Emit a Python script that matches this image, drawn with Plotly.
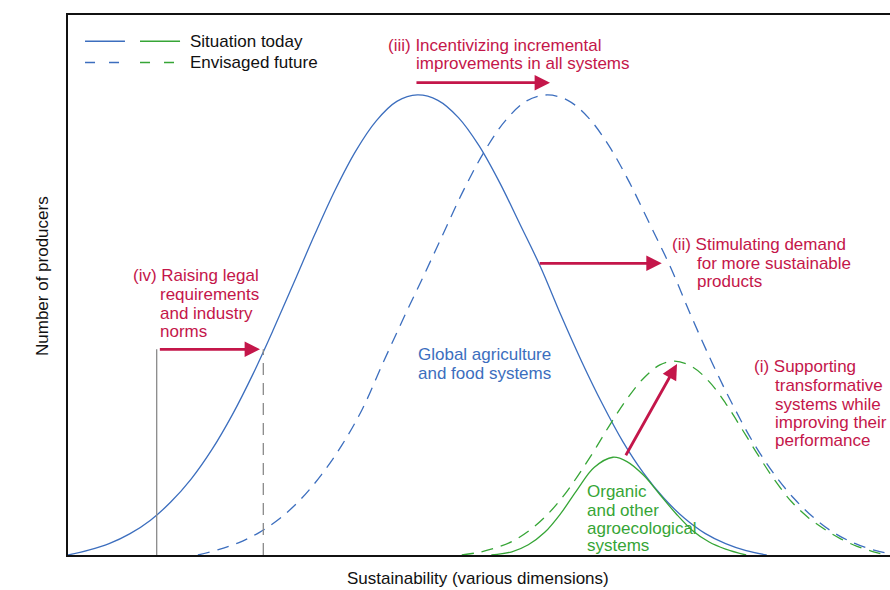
import plotly.graph_objects as go

# ---------------- data ----------------
# x: sustainability (0..100 across visible axis), y: number of producers (0..100)
blue_today_x = [0, 2.5, 5, 7.5, 10, 12.5, 15, 17.5, 20, 22.5, 25, 27.5, 30, 32.5, 35, 37.5, 40,
                42.5, 45, 47.5, 50, 52.5, 55, 57.5, 60, 62.5, 65, 67.5, 70, 72.5, 75, 77.5, 80, 82.5, 85]
blue_today_y = [0, 0.9, 2.1, 3.9, 6.4, 9.8, 14.1, 19.5, 26.0, 33.5, 41.8, 50.5, 59.3, 67.6, 74.8, 80.4, 84.0,
                85.2, 84.2, 81.0, 75.8, 69.0, 61.2, 53.3, 44.3, 35.8, 28.0, 21.0, 15.2, 10.5, 6.8, 4.0, 2.1, 0.8, 0]

blue_future_x = [15.8, 18.3, 20.8, 23.3, 25.8, 28.3, 30.8, 33.3, 35.8, 38.3, 40.8, 43.3, 45.8, 48.3, 50.8, 53.3,
                 55.8, 58.3, 60.8, 63.3, 65.8, 68.3, 70.8, 73.3, 75.8, 78.3, 80.8, 83.3, 85.8, 88.3, 90.8, 93.3,
                 95.8, 98.3, 100.8]
blue_future_y = [0, 1.0, 2.3, 4.2, 6.8, 10.3, 14.8, 20.3, 27.0, 35.5, 43.8, 51.8, 60.0, 68.1, 75.1, 80.6,
                 84.1, 85.2, 84.2, 81.0, 75.8, 69.0, 61.2, 53.3, 44.3, 35.8, 28.0, 21.0, 15.2, 10.5, 6.8, 4.0,
                 2.1, 0.8, 0]

green_today_x = [51.5, 54, 56, 58, 60, 62, 64, 66.3, 68, 70, 72, 74, 76, 78, 80, 82.5]
green_today_y = [0, 0.6, 1.9, 4.2, 7.8, 12.2, 16.2, 18.1, 17.3, 14.8, 11.2, 7.6, 4.5, 2.4, 1.1, 0]

green_future_x = [47.9, 50, 52, 54, 56, 58, 60, 62, 64, 66, 68, 70, 72, 73.8, 76, 78, 80, 82, 84, 86, 88,
                  90, 92, 94, 96, 98, 99.5]
green_future_y = [0, 0.5, 1.3, 2.5, 4.4, 7.0, 10.4, 14.6, 19.3, 24.3, 28.9, 32.7, 35.2, 35.9, 34.8, 32.1,
                  28.1, 23.3, 18.4, 13.8, 9.9, 7.0, 4.8, 3.0, 1.6, 0.6, 0]

# norm threshold markers (iv)
norm_x_today = 10.79
norm_x_future = 23.76
norm_height = 38.1

# policy arrows: (tail_x, tail_y, tip_x, tip_y)
arrow_iii = (42.21, 87.46, 58.64, 87.46)
arrow_ii = (57.21, 54.02, 72.23, 54.02)
arrow_iv = (10.99, 38.09, 23.36, 38.09)
arrow_i = (67.76, 18.20, 74.09, 35.37)

# text labels: (text, x, y)
labels_red = [
    ("(iii) Incentivizing incremental", 38.77, 94.44),
    ("improvements in all systems", 42.21, 91.06),
    ("(ii) Stimulating demand", 73.32, 57.41),
    ("for more sustainable", 76.40, 54.02),
    ("products", 76.40, 50.61),
    ("(iv) Raising legal", 7.75, 51.85),
    ("requirements", 11.11, 48.28),
    ("and industry", 11.11, 44.76),
    ("norms", 11.11, 41.48),
    ("(i) Supporting", 83.37, 34.87),
    ("transformative", 85.93, 31.48),
    ("systems while", 85.93, 27.96),
    ("improving their", 85.93, 24.57),
    ("performance", 85.93, 21.17),
]
labels_blue = [
    ("Global agriculture", 42.49, 37.04),
    ("and food systems", 42.49, 33.65),
]
labels_green = [
    ("Organic", 63.02, 11.72),
    ("and other", 63.02, 8.33),
    ("agroecological", 63.02, 4.94),
    ("systems", 63.02, 1.67),
]
legend_rows = [("Situation today", 95.15, "solid"), ("Envisaged future", 91.2, "dash")]
legend_blue_x = (2.07, 6.93)
legend_green_x = (8.76, 13.63)
legend_text_x = 14.76

x_title = "Sustainability (various dimensions)"
y_title = "Number of producers"

# ---------------- styling ----------------
RED = "#c4164a"
BLUE = "#3c6ebe"
GREEN = "#36a536"
GRAY = "#8a8a8a"
FONT = "Liberation Sans, Arial, Helvetica, sans-serif"
FS = 17
DASH = "12px,8px"

fig = go.Figure()

def curve(x, y, color, dash):
    fig.add_trace(go.Scatter(x=x, y=y, mode="lines", hoverinfo="skip", showlegend=False,
                             line=dict(color=color, width=1.3, dash=dash, shape="spline", smoothing=1.0)))

curve(blue_today_x, blue_today_y, BLUE, "solid")
curve(blue_future_x, blue_future_y, BLUE, DASH)
curve(green_today_x, green_today_y, GREEN, "solid")
curve(green_future_x, green_future_y, GREEN, DASH)

# norm lines
fig.add_trace(go.Scatter(x=[norm_x_today, norm_x_today], y=[0, norm_height], mode="lines",
                         hoverinfo="skip", showlegend=False, line=dict(color=GRAY, width=1.3)))
fig.add_trace(go.Scatter(x=[norm_x_future, norm_x_future], y=[0, norm_height], mode="lines",
                         hoverinfo="skip", showlegend=False, line=dict(color=GRAY, width=1.3, dash="12px,8px")))

annotations = []
for (tx, ty, hx, hy) in [arrow_iii, arrow_ii, arrow_iv, arrow_i]:
    annotations.append(dict(x=hx, y=hy, ax=tx, ay=ty, xref="x", yref="y", axref="x", ayref="y",
                            text="", showarrow=True, arrowhead=2, arrowsize=1.1, arrowwidth=2.8,
                            arrowcolor=RED, standoff=0))

def add_labels(items, color):
    for (t, x, y) in items:
        annotations.append(dict(x=x, y=y, xref="x", yref="y", text=t, showarrow=False,
                                xanchor="left", yanchor="middle", borderpad=0,
                                font=dict(family=FONT, size=FS, color=color)))

add_labels(labels_red, RED)
add_labels(labels_blue, BLUE)
add_labels(labels_green, GREEN)

shapes = []
for (txt, yy, dash) in legend_rows:
    d = "solid" if dash == "solid" else "10px,14px"
    shapes.append(dict(type="line", xref="x", yref="y", x0=legend_blue_x[0], x1=legend_blue_x[1], y0=yy, y1=yy,
                       line=dict(color=BLUE, width=1.6, dash=d)))
    shapes.append(dict(type="line", xref="x", yref="y", x0=legend_green_x[0], x1=legend_green_x[1], y0=yy, y1=yy,
                       line=dict(color=GREEN, width=1.6, dash=d)))
    annotations.append(dict(x=legend_text_x, y=yy, xref="x", yref="y", text=txt, showarrow=False,
                            xanchor="left", yanchor="middle", borderpad=0,
                            font=dict(family=FONT, size=FS, color="#111111")))

# axis titles (paper coordinates so they are drawn outside the plotting area)
annotations.append(dict(x=0.4988, y=-0.0444, xref="paper", yref="paper", text=x_title, showarrow=False,
                        xanchor="center", yanchor="middle", font=dict(family=FONT, size=FS, color="#111111")))
annotations.append(dict(x=-0.0304, y=0.5167, xref="paper", yref="paper", text=y_title, showarrow=False,
                        textangle=-90, xanchor="center", yanchor="middle",
                        font=dict(family=FONT, size=FS, color="#111111")))

fig.update_layout(
    width=890, height=590,
    margin=dict(l=68, r=0, t=15, b=35),
    paper_bgcolor="white", plot_bgcolor="white",
    showlegend=False,
    annotations=annotations,
    shapes=shapes,
    xaxis=dict(range=[0, 100], showgrid=False, zeroline=False, showticklabels=False, ticks="",
               showline=True, mirror=True, linecolor="#111111", linewidth=1.6, fixedrange=True),
    yaxis=dict(range=[0, 100], showgrid=False, zeroline=False, showticklabels=False, ticks="",
               showline=True, mirror=False, linecolor="#111111", linewidth=1.6, fixedrange=True),
    font=dict(family=FONT),
)

# remove the default 8px page margin so the 890x590 figure fills the window exactly
fig.write_html("out.html", config={"displayModeBar": False},
               post_script="document.body.style.margin='0px';document.body.style.overflow='hidden';")
